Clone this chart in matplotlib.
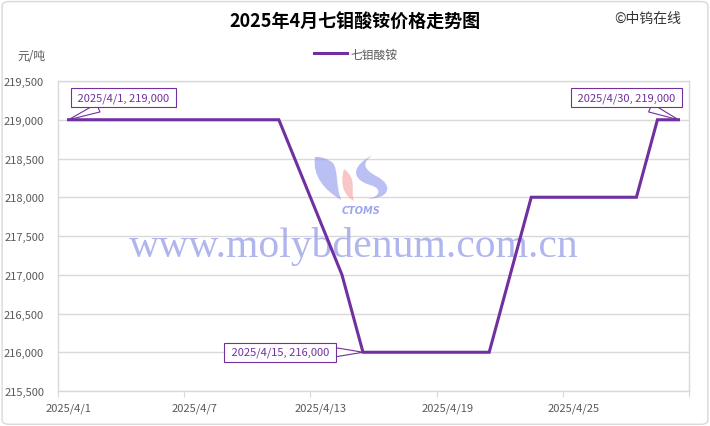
import datetime as dt
import matplotlib
matplotlib.use("Agg")
import matplotlib.pyplot as plt
import matplotlib.dates as mdates
from matplotlib.path import Path
from matplotlib.patches import PathPatch, FancyBboxPatch
from matplotlib.ticker import FuncFormatter, FixedLocator

plt.rcParams['font.family'] = ['Noto Sans CJK SC', 'DejaVu Sans']

# data: weekday quotes, April 2025
days = [1, 2, 3, 4, 7, 8, 9, 10, 11, 14, 15, 16, 17, 18,
        21, 22, 23, 24, 25, 28, 29, 30]
prices = [219000, 219000, 219000, 219000, 219000, 219000, 219000, 219000,
          219000, 217000, 216000, 216000, 216000, 216000,
          216000, 217000, 218000, 218000, 218000, 218000, 219000, 219000]
label_days = [1, 7, 13, 19, 25]
callouts = [(1, 219000), (15, 216000), (30, 219000)]

series_name = "七钼酸铵"
title = "2025年4月七钼酸铵价格走势图"
unit = "元/吨"
source = "©中钨在线"
watermark = "www.molybdenum.com.cn"

purple = "#7030A0"
grid_c = "#d9d9d9"
text_c = "#595959"

dates = [dt.date(2025, 4, d) for d in days]
x = mdates.date2num(dates)

fig = plt.figure(figsize=(7.1, 4.27), dpi=100)
W, H = 710, 427


def fx(px):
    return px / W


def fy(py):
    return 1 - py / H


ax = fig.add_axes([fx(58), fy(392), fx(689) - fx(58), fy(82) - fy(392)])

# watermark behind the line
ax.text(0.468, 0.47, watermark, transform=ax.transAxes, ha="center",
        va="center", fontsize=30, family="Liberation Serif",
        color="#8f98e6", alpha=0.7, zorder=1)


# CTOMS logo (rough filled shapes, pixel coords)
def blob(pts, color):
    verts = [(fx(a), fy(b)) for a, b in pts]
    codes = [Path.MOVETO] + [Path.CURVE4] * (len(verts) - 1)
    p = PathPatch(Path(verts, codes), fc=color, ec="none", alpha=0.6,
                  transform=fig.transFigure)
    fig.add_artist(p)


# left swoosh
blob([(315, 158), (312, 178), (326, 192), (341, 201),
      (336, 188), (338, 170), (333, 164),
      (328, 160), (320, 157), (315, 158)], "#8c96ec")
# pink middle
blob([(344, 170), (358, 180), (350, 192), (354, 202),
      (343, 196), (340, 184), (344, 170)], "#f4a0a0")
# right S
blob([(373, 156), (352, 166), (350, 180), (370, 186),
      (385, 190), (378, 200), (365, 200),
      (392, 200), (392, 186), (378, 178),
      (362, 170), (362, 163), (373, 156)], "#8c96ec")
fig.text(fx(361), fy(211), "CTOMS", ha="center", va="center", fontsize=7,
         fontweight="bold", style="italic", color="#8c96ec", alpha=0.85,
         family="DejaVu Sans")

ax.plot(x, prices, color=purple, lw=2.2, zorder=3, label=series_name,
        solid_joinstyle="miter")

x0 = mdates.date2num(dt.date(2025, 4, 1)) - 0.5
x1 = mdates.date2num(dt.date(2025, 4, 30)) + 0.5
ax.set_xlim(x0, x1)
ax.set_ylim(215500, 219500)
ax.set_yticks(range(215500, 219501, 500))
ax.yaxis.set_major_formatter(FuncFormatter(lambda v, p: f"{int(v):,}"))
ax.grid(axis="y", color=grid_c, lw=1)
ax.set_axisbelow(True)

lab_x = [mdates.date2num(dt.date(2025, 4, d)) for d in label_days]
ax.xaxis.set_major_locator(FixedLocator([v - 0.5 for v in lab_x] + [x1]))
ax.xaxis.set_minor_locator(FixedLocator(lab_x))
ax.xaxis.set_major_formatter(FuncFormatter(lambda v, p: ""))
ax.xaxis.set_minor_formatter(
    FuncFormatter(lambda v, p: "2025/4/%d" % mdates.num2date(v).day))
ax.tick_params(axis="x", which="major", length=4, color=grid_c)
ax.tick_params(axis="x", which="minor", length=0, labelsize=8,
               labelcolor=text_c, pad=8)
ax.tick_params(axis="y", length=0, labelsize=8, labelcolor=text_c, pad=10)
for s in ax.spines.values():
    s.set_color(grid_c)
    s.set_linewidth(1)

offsets = [(55, 22), (-83, 0), (-52, 22)]
for (d, v), off in zip(callouts, offsets):
    xv = mdates.date2num(dt.date(2025, 4, d))
    ax.annotate(f" 2025/4/{d}, {v:,} ", xy=(xv, v), xytext=off,
                textcoords="offset pixels", ha="center", va="center",
                fontsize=8, color=purple, zorder=5,
                bbox=dict(boxstyle="square,pad=0.4", fc="white", ec=purple,
                          lw=0.8),
                arrowprops=dict(arrowstyle="wedge,tail_width=0.8,shrink_factor=0.5",
                                fc="white", ec=purple, lw=0.8,
                                shrinkA=0, shrinkB=0))

fig.text(0.5, fy(22), title, ha="center", va="center", fontsize=13,
         fontweight="bold", color="black")
fig.text(fx(648), fy(19), source, ha="center", va="center", fontsize=10,
         color="#333333")
fig.text(fx(31), fy(56), unit, ha="center", va="center", fontsize=8.5,
         color=text_c)
fig.legend(loc="center", bbox_to_anchor=(fx(356), fy(55)), frameon=False,
           fontsize=8.5, handlelength=2.8, labelcolor=text_c,
           handletextpad=0.3)

fig.add_artist(FancyBboxPatch((0.003, 0.004), 0.994, 0.99,
                              boxstyle="round,pad=0,rounding_size=0.01",
                              fc="none", ec="#d9d9d9", lw=1,
                              transform=fig.transFigure))

fig.savefig("out.png", dpi=100)
